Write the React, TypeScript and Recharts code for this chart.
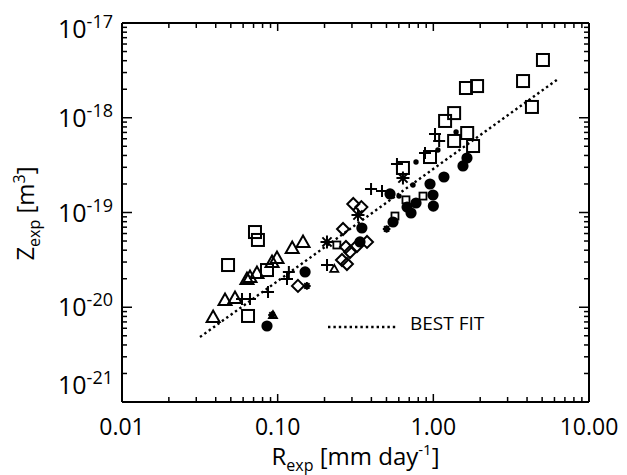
import { ComposedChart, Scatter, XAxis, YAxis, Legend } from "recharts";

const FONT = '"Open Sans", sans-serif';

// R_exp [mm/day], Z_exp [m^3]
const squares = [
  [5.06, 4.07e-18], [3.77, 2.44e-18], [4.3, 1.3e-18], [1.62, 2.06e-18], [1.91, 2.16e-18],
  [1.36, 1.12e-18], [1.19, 9.25e-19], [1.65, 6.9e-19], [1.36, 5.69e-19], [1.8, 5.03e-19],
  [0.952, 3.85e-19], [0.638, 2.95e-19], [0.0715, 6.22e-20], [0.0747, 5.13e-20],
  [0.048, 2.79e-20], [0.0854, 2.47e-20], [0.0645, 8.09e-21],
];
const smallSquares = [[0.24, 4.54e-20], [0.667, 1.36e-19], [0.858, 1.49e-19], [0.567, 9.18e-20]];
const pluses = [
  [1.025, 6.74e-19], [1.09, 5.69e-19], [0.884, 4.25e-19], [0.584, 3.25e-19], [0.398, 1.77e-19],
  [0.468, 1.69e-19], [0.2075, 2.79e-20], [0.1148, 1.99e-20], [0.118, 2.36e-20],
  [0.0867, 1.45e-20], [0.0664, 1.22e-20], [0.059, 1.22e-20],
];
const smallDots = [[1.4, 7.08e-19], [1.07, 4.57e-19], [0.774, 3.41e-19], [0.74, 1.95e-19], [0.602, 1.49e-19]];
const circles = [
  [1.645, 3.76e-19], [1.55, 3.1e-19], [1.17, 2.37e-19], [0.952, 2.0e-19], [0.995, 1.53e-19],
  [1.0, 1.17e-19], [0.774, 1.26e-19], [0.678, 1.14e-19], [0.719, 9.88e-20], [0.551, 7.94e-20],
  [0.527, 1.57e-19], [0.3475, 6.86e-20], [0.338, 4.89e-20], [0.15, 2.36e-20], [0.0854, 6.34e-21],
];
const triangles = [
  [0.124, 4.22e-20], [0.1455, 4.89e-20], [0.099, 3.31e-20], [0.092, 3.0e-20], [0.0736, 2.3e-20],
  [0.0664, 2.08e-20], [0.0635, 1.99e-20], [0.0532, 1.25e-20], [0.0459, 1.19e-20], [0.0385, 7.89e-21],
];
const smallTriangles = [[0.0933, 8.28e-21], [0.231, 2.54e-20]];
const diamonds = [
  [0.306, 1.23e-19], [0.345, 1.14e-19], [0.263, 6.7e-20], [0.259, 3.15e-20], [0.2786, 2.86e-20],
  [0.2746, 4.33e-20], [0.2915, 3.83e-20], [0.323, 4.43e-20], [0.375, 4.89e-20], [0.135, 1.68e-20],
];
const asterisks = [[0.328, 9.41e-20], [0.2074, 4.89e-20], [0.638, 2.31e-19]];
const smallStars = [[0.501, 6.7e-20], [0.154, 1.68e-20], [0.092, 8.28e-21]];
const bestFit = [[0.0317, 4.85e-21], [6.32, 2.56e-18]];

const xMajor = [0.01, 0.1, 1, 10];
const xTickLabels = ["0.01", "0.10", "1.00", "10.00"];
const yMajor = [1e-21, 1e-20, 1e-19, 1e-18, 1e-17];
const yTickExps = ["-21", "-20", "-19", "-18", "-17"];

const minorTicks = (majors: number[]) => {
  const out: number[] = [];
  majors.forEach((m, i) => {
    if (i === majors.length - 1) { out.push(m); return; }
    for (let k = 1; k <= 9; k++) out.push(k * m);
  });
  return out;
};
const xTicks = minorTicks(xMajor);
const yTicks = minorTicks(yMajor);

const pts = (a: number[][]) => a.map(([r, z]) => ({ r, z }));
const majorIndex = (list: number[], v: number) => list.findIndex((m) => Math.abs(m - v) / m < 1e-6);

function BottomTick({ x, y, payload }: any) {
  const i = majorIndex(xMajor, payload.value);
  return (
    <g>
      <line x1={x} x2={x} y1={y} y2={y - (i >= 0 ? 8 : 5)} stroke="#000" strokeWidth={1.5} />
      {i >= 0 && (
        <text x={x} y={y + 33} textAnchor="middle" fontSize={23} fontFamily={FONT} fill="#000">
          {xTickLabels[i]}
        </text>
      )}
    </g>
  );
}
function TopTick({ x, y, payload }: any) {
  const i = majorIndex(xMajor, payload.value);
  return <line x1={x} x2={x} y1={y} y2={y + (i >= 0 ? 8 : 5)} stroke="#000" strokeWidth={1.5} />;
}
function LeftTick({ x, y, payload }: any) {
  const i = majorIndex(yMajor, payload.value);
  const shift = i === 0 ? -17 : i === yMajor.length - 1 ? 6 : 0;
  return (
    <g>
      <line x1={x} x2={x + (i >= 0 ? 10 : 5)} y1={y} y2={y} stroke="#000" strokeWidth={1.5} />
      {i >= 0 && (
        <text x={x - 9} y={y + 9 + shift} textAnchor="end" fontFamily={FONT} fill="#000">
          <tspan fontSize={25}>10</tspan>
          <tspan fontSize={18} dy={-10}>{yTickExps[i]}</tspan>
        </text>
      )}
    </g>
  );
}
function RightTick({ x, y, payload }: any) {
  const i = majorIndex(yMajor, payload.value);
  return <line x1={x} x2={x - (i >= 0 ? 10 : 5)} y1={y} y2={y} stroke="#000" strokeWidth={1.5} />;
}

function XTitle({ viewBox }: any) {
  const cx = viewBox.x + viewBox.width / 2;
  return (
    <text x={cx} y={viewBox.y + 63} textAnchor="middle" fontFamily={FONT} fontSize={24} fill="#000">
      R<tspan fontSize={16} dy={6}>exp</tspan>
      <tspan dy={-6}> [mm day</tspan>
      <tspan fontSize={15} dy={-10}>-1</tspan>
      <tspan dy={10}>]</tspan>
    </text>
  );
}
function YTitle({ viewBox }: any) {
  const bx = viewBox.x + 12;
  const cy = viewBox.y + viewBox.height / 2 + 1;
  return (
    <text transform={`translate(${bx},${cy}) rotate(-90)`} textAnchor="middle" fontFamily={FONT} fontSize={24} fill="#000">
      Z<tspan fontSize={16} dy={6}>exp</tspan>
      <tspan dy={-6}> [m</tspan>
      <tspan fontSize={16} dy={-9}>3</tspan>
      <tspan dy={9}>]</tspan>
    </text>
  );
}

const K = "#000";
const SquareMark = ({ cx, cy }: any) => <rect x={cx - 6} y={cy - 6} width={12} height={12} fill="none" stroke={K} strokeWidth={2} />;
const SmallSquareMark = ({ cx, cy }: any) => <rect x={cx - 3.5} y={cy - 3.5} width={7} height={7} fill="none" stroke={K} strokeWidth={1.8} />;
const PlusMark = ({ cx, cy }: any) => <path d={`M${cx - 6},${cy}H${cx + 6}M${cx},${cy - 6}V${cy + 6}`} stroke={K} strokeWidth={2} />;
const DotMark = ({ cx, cy }: any) => <circle cx={cx} cy={cy} r={2.7} fill={K} />;
const CircleMark = ({ cx, cy }: any) => <circle cx={cx} cy={cy} r={5.6} fill={K} />;
const TriangleMark = ({ cx, cy }: any) => (
  <path d={`M${cx - 6.5},${cy + 5}L${cx + 6.5},${cy + 5}L${cx},${cy - 6.5}Z`} fill="none" stroke={K} strokeWidth={2} />
);
const SmallTriangleMark = ({ cx, cy }: any) => (
  <path d={`M${cx - 4},${cy + 3}L${cx + 4},${cy + 3}L${cx},${cy - 4}Z`} fill="none" stroke={K} strokeWidth={1.8} />
);
const DiamondMark = ({ cx, cy }: any) => (
  <path d={`M${cx},${cy - 6}L${cx + 6},${cy}L${cx},${cy + 6}L${cx - 6},${cy}Z`} fill="none" stroke={K} strokeWidth={2} />
);
const starPath = (cx: number, cy: number, r: number) => {
  const d = r * 0.707;
  return `M${cx - r},${cy}H${cx + r}M${cx},${cy - r}V${cy + r}M${cx - d},${cy - d}L${cx + d},${cy + d}M${cx - d},${cy + d}L${cx + d},${cy - d}`;
};
const AsteriskMark = ({ cx, cy }: any) => <path d={starPath(cx, cy, 6.5)} stroke={K} strokeWidth={2} />;
const SmallStarMark = ({ cx, cy }: any) => <path d={starPath(cx, cy, 3.8)} stroke={K} strokeWidth={2} />;
const NoMark = () => <g />;

function FitLegend() {
  return (
    <svg width={200} height={50} style={{ display: "block", overflow: "visible" }}>
      <line x1={5} x2={74} y1={24} y2={24} stroke={K} strokeWidth={2.4} strokeDasharray="2.4 3" />
      <text x={87} y={26.5} fontFamily={FONT} fontSize={19} fill={K}>BEST FIT</text>
    </svg>
  );
}

export default function App() {
  return (
    <ComposedChart width={619} height={467} margin={{ top: 5, right: 28, bottom: 13, left: 14 }}>
      <XAxis
        xAxisId="b" dataKey="r" type="number" scale="log" domain={[0.01, 10]} allowDataOverflow
        ticks={xTicks} interval={0} tickSize={0} tickMargin={0} tickLine={false}
        axisLine={{ stroke: K, strokeWidth: 2 }} tick={<BottomTick />} height={60} label={<XTitle />}
      />
      <XAxis
        xAxisId="t" orientation="top" dataKey="r" type="number" scale="log" domain={[0.01, 10]} allowDataOverflow
        ticks={xTicks} interval={0} tickSize={0} tickMargin={0} tickLine={false}
        axisLine={{ stroke: K, strokeWidth: 2 }} tick={<TopTick />} height={10}
      />
      <YAxis
        yAxisId="l" dataKey="z" type="number" scale="log" domain={[1e-21, 1e-17]} allowDataOverflow
        ticks={yTicks} interval={0} tickSize={0} tickMargin={0} tickLine={false}
        axisLine={{ stroke: K, strokeWidth: 2 }} tick={<LeftTick />} width={100} label={<YTitle />}
      />
      <YAxis
        yAxisId="r" orientation="right" dataKey="z" type="number" scale="log" domain={[1e-21, 1e-17]} allowDataOverflow
        ticks={yTicks} interval={0} tickSize={0} tickMargin={0} tickLine={false}
        axisLine={{ stroke: K, strokeWidth: 2 }} tick={<RightTick />} width={10}
      />
      <Legend
        layout="vertical" align="center" verticalAlign="middle"
        wrapperStyle={{ left: 315, top: 295, width: 200 }}
        content={() => <FitLegend />}
      />
      <Scatter name="BEST FIT" xAxisId="b" yAxisId="l" data={pts(bestFit)} shape={NoMark}
        line={{ stroke: K, strokeWidth: 2.4, strokeDasharray: "2.4 3" }} isAnimationActive={false} />
      <Scatter xAxisId="b" yAxisId="l" data={pts(squares)} shape={SquareMark} isAnimationActive={false} />
      <Scatter xAxisId="b" yAxisId="l" data={pts(smallSquares)} shape={SmallSquareMark} isAnimationActive={false} />
      <Scatter xAxisId="b" yAxisId="l" data={pts(pluses)} shape={PlusMark} isAnimationActive={false} />
      <Scatter xAxisId="b" yAxisId="l" data={pts(smallDots)} shape={DotMark} isAnimationActive={false} />
      <Scatter xAxisId="b" yAxisId="l" data={pts(circles)} shape={CircleMark} isAnimationActive={false} />
      <Scatter xAxisId="b" yAxisId="l" data={pts(triangles)} shape={TriangleMark} isAnimationActive={false} />
      <Scatter xAxisId="b" yAxisId="l" data={pts(smallTriangles)} shape={SmallTriangleMark} isAnimationActive={false} />
      <Scatter xAxisId="b" yAxisId="l" data={pts(diamonds)} shape={DiamondMark} isAnimationActive={false} />
      <Scatter xAxisId="b" yAxisId="l" data={pts(asterisks)} shape={AsteriskMark} isAnimationActive={false} />
      <Scatter xAxisId="b" yAxisId="l" data={pts(smallStars)} shape={SmallStarMark} isAnimationActive={false} />
    </ComposedChart>
  );
}
